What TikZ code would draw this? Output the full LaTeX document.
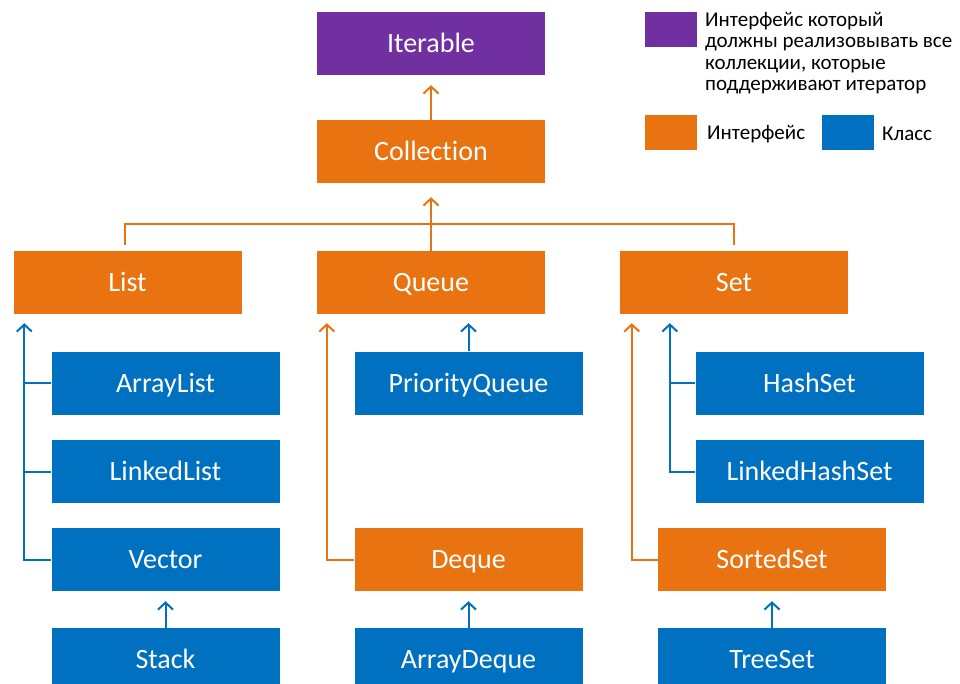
\documentclass[tikz,border=0pt]{standalone}
\usepackage{fontspec}
\setmainfont[Ligatures={NoCommon}]{Carlito}
\usetikzlibrary{arrows.meta}
\definecolor{ipurple}{HTML}{7030A0}
\definecolor{iorange}{HTML}{E97311}
\definecolor{cblue}{HTML}{0070C0}
\tikzset{
  base/.style={minimum width=228pt, minimum height=63pt, inner sep=0pt,
    text height=24pt, text depth=6pt,
    text=white, font=\fontsize{28}{32}\selectfont},
  itop/.style={base, fill=ipurple},
  iface/.style={base, fill=iorange},
  klass/.style={base, fill=cblue},
  tip/.style={-{Straight Barb[length=7pt,width=15pt,line width=2pt]}, line width=2pt},
  oline/.style={draw=iorange, line width=2pt},
  bline/.style={draw=cblue, line width=2pt},
  oarr/.style={oline, tip},
  barr/.style={bline, tip},
  swatch/.style={minimum width=52pt, minimum height=35pt, inner sep=0pt},
  legtext/.style={font=\fontsize{21}{21.5}\selectfont, align=left, inner sep=0pt, anchor=north west}
}
\begin{document}
\begin{tikzpicture}[x=1pt, y=-1pt]
\clip (0,0) rectangle (960,684);
\useasboundingbox (0,0) rectangle (960,684);

% hierarchy boxes
\node[itop]  (iterable)   at (431,43.5)  {Iterable};
\node[iface] (collection) at (431,151.5) {Collection};
\node[iface] (list)       at (127.5,282.5) {List};
\node[iface] (queue)      at (431,282.5) {Queue};
\node[iface] (set)        at (734,282.5) {Set};
\node[klass] (arraylist)  at (165.5,383) {ArrayList};
\node[klass] (linkedlist) at (165.5,471.5) {LinkedList};
\node[klass] (vector)     at (165.5,559.5) {Vector};
\node[klass] (stack)      at (165.5,659.5) {Stack};
\node[klass] (pqueue)     at (468.5,383) {PriorityQueue};
\node[iface] (deque)      at (468.5,559.5) {Deque};
\node[klass] (adeque)     at (468.5,659.5) {ArrayDeque};
\node[klass] (hashset)    at (809.5,383) {HashSet};
\node[klass] (lhashset)   at (809.5,471.5) {LinkedHashSet};
\node[iface] (sortedset)  at (772,559.5) {SortedSet};
\node[klass] (treeset)    at (772,659.5) {TreeSet};

% Collection -> Iterable
\draw[oarr, shorten >=10pt] (collection.north) -- (iterable.south);

% List / Queue / Set -> Collection
\draw[oline] ([xshift=-2.5pt,yshift=6pt]list.north) -- ([xshift=-2.5pt,yshift=27pt]list.north)
  -| ([yshift=6pt]set.north);
\draw[oarr, shorten >=14pt] (queue.north) -- (collection.south);

% List implementations
\coordinate (lbus) at ([xshift=11pt,yshift=-9pt]list.south west);
\draw[barr] (vector.west) -| (lbus);
\draw[bline] (arraylist.west) -- (arraylist.west -| lbus);
\draw[bline] (linkedlist.west) -- (linkedlist.west -| lbus);
\draw[barr, shorten >=10pt] (stack.north) -- (vector.south);

% Queue branch
\draw[barr, shorten >=9pt] (pqueue.north) -- (pqueue.north |- queue.south);
\coordinate (qbus) at ([xshift=10pt,yshift=-9pt]queue.south west);
\draw[oarr] (deque.west) -| (qbus);
\draw[barr, shorten >=10pt] (adeque.north) -- (deque.south);

% Set branch
\coordinate (sbus) at ([xshift=12pt,yshift=-9pt]set.south west);
\draw[oarr] (sortedset.west) -| (sbus);
\coordinate (hbus) at ([xshift=50pt,yshift=-9pt]set.south west);
\draw[barr] (lhashset.west) -| (hbus);
\draw[bline] (hashset.west) -- (hashset.west -| hbus);
\draw[barr, shorten >=10pt] (treeset.north) -- (sortedset.south);

% legend
\node[swatch, fill=ipurple] (lgp) at (671,29.5) {};
\node[legtext] (lgptext) at (705,12) {Интерфейс который\\должны реализовывать все\\коллекции, которые\\поддерживают итератор};
\node[swatch, fill=iorange] (lgo) at (671,132.5) {};
\node[legtext, anchor=west] (lgotext) at (707,134) {Интерфейс};
\node[swatch, fill=cblue] (lgb) at (847.5,132.5) {};
\node[legtext, anchor=west] (lgbtext) at (882,134) {Класс};
\end{tikzpicture}
\end{document}
